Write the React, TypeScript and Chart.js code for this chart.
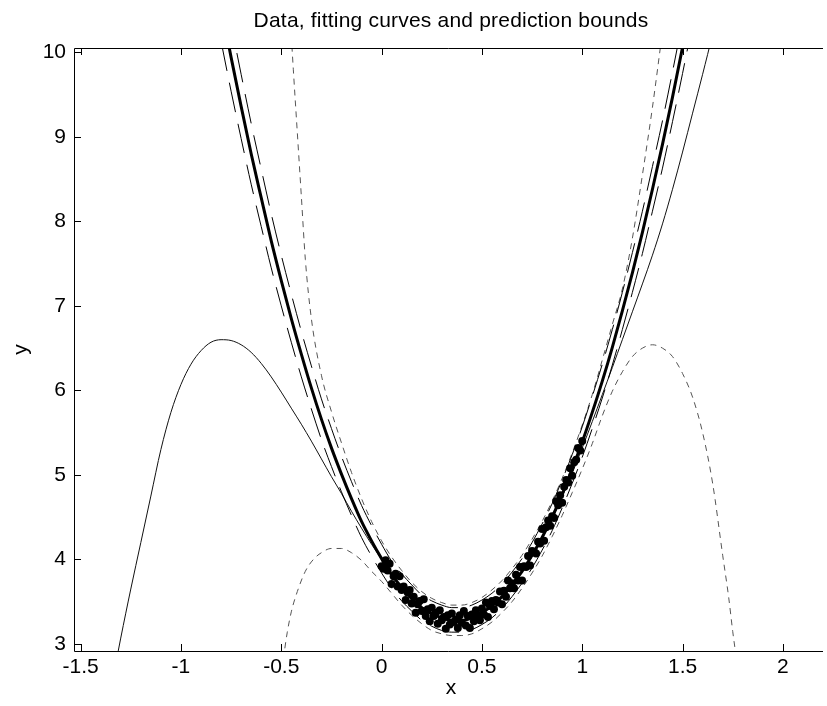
import React, { useEffect, useRef } from 'react';
import { Chart, registerables } from 'chart.js';

Chart.register(...registerables);

const TITLE = 'Data, fitting curves and prediction bounds';
const X_LABEL = 'x';
const Y_LABEL = 'y';
const X_TICKS = [-1.5, -1, -0.5, 0, 0.5, 1, 1.5, 2];
const Y_TICKS = [3, 4, 5, 6, 7, 8, 9, 10];
const X_MIN = -1.533;
const X_MAX = 2.2;
const Y_MIN = 2.917;
const Y_MAX = 10.051;

// observed data
const dataX = [
  0.00, 0.01, 0.02, 0.03, 0.04, 0.05, 0.06, 0.07, 0.08, 0.09,
  0.10, 0.11, 0.12, 0.13, 0.14, 0.15, 0.16, 0.17, 0.18, 0.19,
  0.20, 0.21, 0.22, 0.23, 0.24, 0.25, 0.26, 0.27, 0.28, 0.29,
  0.30, 0.31, 0.32, 0.33, 0.34, 0.35, 0.36, 0.37, 0.38, 0.39,
  0.40, 0.41, 0.42, 0.43, 0.44, 0.45, 0.46, 0.47, 0.48, 0.49,
  0.50, 0.51, 0.52, 0.53, 0.54, 0.55, 0.56, 0.57, 0.58, 0.59,
  0.60, 0.61, 0.62, 0.63, 0.64, 0.65, 0.66, 0.67, 0.68, 0.69,
  0.70, 0.71, 0.72, 0.73, 0.74, 0.75, 0.76, 0.77, 0.78, 0.79,
  0.80, 0.81, 0.82, 0.83, 0.84, 0.85, 0.86, 0.87, 0.88, 0.89,
  0.90, 0.91, 0.92, 0.93, 0.94, 0.95, 0.96, 0.97, 0.98, 0.99, 1.00,
];
const dataY = [
  3.92, 3.89, 3.99, 3.87, 3.95, 3.71, 3.80, 3.83, 3.68, 3.80,
  3.64, 3.68, 3.52, 3.61, 3.64, 3.48, 3.56, 3.37, 3.47, 3.51,
  3.39, 3.53, 3.33, 3.41, 3.27, 3.43, 3.33, 3.37, 3.24, 3.40,
  3.28, 3.32, 3.18, 3.34, 3.23, 3.36, 3.26, 3.29, 3.19, 3.34,
  3.25, 3.39, 3.22, 3.33, 3.19, 3.35, 3.27, 3.40, 3.34, 3.28,
  3.42, 3.35, 3.49, 3.32, 3.45, 3.51, 3.41, 3.52, 3.49, 3.62,
  3.47, 3.63, 3.56, 3.75, 3.66, 3.72, 3.66, 3.82, 3.75, 3.91,
  3.75, 3.92, 3.91, 4.04, 3.93, 4.10, 4.09, 4.07, 4.21, 4.19,
  4.36, 4.22, 4.38, 4.46, 4.40, 4.51, 4.49, 4.69, 4.64, 4.76,
  4.67, 4.86, 4.94, 4.91, 5.08, 4.99, 5.15, 5.18, 5.32, 5.29, 5.40,
];

// fit 1 (thick) with its prediction bounds (long dashes)
const fit1X = [
  -0.80, -0.75, -0.70, -0.65, -0.60, -0.55, -0.50, -0.45, -0.40, -0.35,
  -0.30, -0.25, -0.20, -0.15, -0.10, -0.05, 0.00, 0.05, 0.10, 0.15,
  0.20, 0.25, 0.30, 0.35, 0.40, 0.45, 0.50, 0.55, 0.60, 0.65,
  0.70, 0.75, 0.80, 0.85, 0.90, 0.95, 1.00, 1.05, 1.10, 1.15,
  1.20, 1.25, 1.30, 1.35, 1.40, 1.45, 1.50, 1.55,
];
const fit1Y = [
  10.55, 9.94, 9.36, 8.80, 8.28, 7.77, 7.30, 6.85, 6.43, 6.03,
  5.66, 5.32, 5.01, 4.72, 4.45, 4.22, 4.01, 3.82, 3.67, 3.54,
  3.43, 3.36, 3.31, 3.28, 3.28, 3.31, 3.37, 3.45, 3.56, 3.70,
  3.86, 4.05, 4.26, 4.50, 4.77, 5.07, 5.39, 5.74, 6.11, 6.51,
  6.94, 7.39, 7.87, 8.38, 8.91, 9.47, 10.06, 10.67,
];
const fit1UpperY = [
  10.97, 10.34, 9.74, 9.16, 8.62, 8.09, 7.60, 7.14, 6.70, 6.29,
  5.90, 5.55, 5.22, 4.92, 4.64, 4.40, 4.18, 3.98, 3.83, 3.70,
  3.58, 3.51, 3.46, 3.43, 3.43, 3.46, 3.52, 3.60, 3.71, 3.85,
  4.01, 4.20, 4.42, 4.66, 4.94, 5.24, 5.57, 5.93, 6.31, 6.72,
  7.16, 7.63, 8.12, 8.65, 9.19, 9.77, 10.37, 11.00,
];
const fit1LowerY = [
  10.13, 9.54, 8.98, 8.44, 7.94, 7.45, 7.00, 6.57, 6.16, 5.78,
  5.42, 5.10, 4.80, 4.52, 4.26, 4.04, 3.84, 3.66, 3.51, 3.39,
  3.28, 3.21, 3.16, 3.14, 3.14, 3.17, 3.23, 3.31, 3.42, 3.56,
  3.72, 3.90, 4.11, 4.34, 4.61, 4.90, 5.21, 5.55, 5.91, 6.30,
  6.72, 7.16, 7.62, 8.12, 8.63, 9.18, 9.75, 10.34,
];

// fit 2 (thin solid)
const fit2X = [
  -1.35, -1.30, -1.25, -1.20, -1.15, -1.10, -1.05, -1.00, -0.95, -0.90,
  -0.85, -0.80, -0.75, -0.70, -0.65, -0.60, -0.55, -0.50, -0.45, -0.40,
  -0.35, -0.30, -0.25, -0.20, -0.15, -0.10, -0.05, 0.00, 0.05, 0.10,
  0.15, 0.20, 0.25, 0.30, 0.35, 0.40, 0.45, 0.50, 0.55, 0.60,
  0.65, 0.70, 0.75, 0.80, 0.85, 0.90, 0.95, 1.00, 1.05, 1.10,
  1.15, 1.20, 1.25, 1.30, 1.35, 1.40, 1.45, 1.50, 1.55, 1.60,
  1.65, 1.70,
];
const fit2Y = [
  2.45, 3.07, 3.65, 4.20, 4.75, 5.30, 5.74, 6.07, 6.31, 6.47,
  6.57, 6.60, 6.59, 6.54, 6.45, 6.32, 6.16, 5.98, 5.79, 5.60,
  5.40, 5.19, 4.98, 4.78, 4.57, 4.37, 4.18, 4.00, 3.83, 3.68,
  3.55, 3.44, 3.36, 3.31, 3.28, 3.28, 3.31, 3.37, 3.45, 3.56,
  3.70, 3.86, 4.04, 4.25, 4.48, 4.74, 5.02, 5.32, 5.63, 5.95,
  6.27, 6.60, 6.93, 7.26, 7.60, 7.97, 8.38, 8.82, 9.28, 9.74,
  10.22, 10.75,
];

// fit 2 prediction bounds (short dashes)
const fit2UpperX = [
  -0.46, -0.44, -0.42, -0.40, -0.38, -0.35, -0.30, -0.25, -0.20, -0.15,
  -0.10, -0.05, 0.00, 0.05, 0.10, 0.15, 0.20, 0.25, 0.30, 0.35,
  0.40, 0.45, 0.50, 0.55, 0.60, 0.65, 0.70, 0.75, 0.80, 0.85,
  0.90, 0.95, 1.00, 1.05, 1.10, 1.15, 1.20, 1.25, 1.30, 1.35, 1.40,
];
const fit2UpperY = [
  10.60, 9.80, 9.05, 8.30, 7.55, 6.85, 6.18, 5.75, 5.38, 5.03,
  4.72, 4.45, 4.22, 4.03, 3.87, 3.73, 3.62, 3.54, 3.49, 3.46,
  3.46, 3.49, 3.55, 3.64, 3.75, 3.89, 4.05, 4.24, 4.45, 4.69,
  4.96, 5.26, 5.59, 5.95, 6.36, 6.78, 7.20, 7.80, 8.55, 9.35, 10.25,
];
const fit2LowerX = [
  -0.49, -0.47, -0.45, -0.42, -0.38, -0.34, -0.30, -0.25, -0.20, -0.15,
  -0.10, -0.05, 0.00, 0.05, 0.10, 0.15, 0.20, 0.25, 0.30, 0.35,
  0.40, 0.45, 0.50, 0.55, 0.60, 0.65, 0.70, 0.75, 0.80, 0.85,
  0.90, 0.95, 1.00, 1.05, 1.10, 1.15, 1.20, 1.25, 1.30, 1.35,
  1.40, 1.45, 1.50, 1.55, 1.60, 1.65, 1.70, 1.73, 1.75, 1.77,
];
const fit2LowerY = [
  2.82, 3.14, 3.38, 3.62, 3.86, 4.00, 4.08, 4.13, 4.13, 4.08,
  3.99, 3.86, 3.74, 3.60, 3.46, 3.34, 3.24, 3.16, 3.12, 3.10,
  3.10, 3.12, 3.18, 3.26, 3.37, 3.50, 3.66, 3.84, 4.04, 4.27,
  4.52, 4.79, 5.07, 5.37, 5.70, 5.99, 6.22, 6.40, 6.50, 6.54,
  6.50, 6.40, 6.20, 5.92, 5.50, 4.90, 4.05, 3.55, 3.15, 2.80,
];

const FONT = '"Liberation Sans", Arial, Helvetica, sans-serif';
const FONT_SIZE = 21;

const pts = (xs: number[], ys: number[]) => xs.map((x, i) => ({ x, y: ys[i] }));

const framePlugin = {
  id: 'matlabFrame',
  afterDraw(chart: any) {
    const { ctx, chartArea, scales } = chart;
    const { left, right, top, bottom } = chartArea;
    const xs = scales.x;
    const ys = scales.y;
    const tick = 7;
    ctx.save();
    ctx.strokeStyle = '#000';
    ctx.lineWidth = 1;
    ctx.setLineDash([]);
    ctx.beginPath();
    ctx.moveTo(left + 0.5, bottom + 0.5);
    ctx.lineTo(left + 0.5, top + 0.5);
    ctx.lineTo(right, top + 0.5);
    ctx.moveTo(left + 0.5, bottom + 0.5);
    ctx.lineTo(right, bottom + 0.5);
    X_TICKS.forEach((v) => {
      const p = Math.round(xs.getPixelForValue(v)) + 0.5;
      ctx.moveTo(p, bottom);
      ctx.lineTo(p, bottom - tick);
      ctx.moveTo(p, top);
      ctx.lineTo(p, top + tick);
    });
    Y_TICKS.forEach((v) => {
      const p = Math.round(ys.getPixelForValue(v)) + 0.5;
      ctx.moveTo(left, p);
      ctx.lineTo(left + tick, p);
    });
    ctx.stroke();

    ctx.fillStyle = '#000';
    ctx.font = `${FONT_SIZE}px ${FONT}`;
    ctx.textAlign = 'center';
    ctx.textBaseline = 'alphabetic';
    const cx = 451;
    try { (ctx as any).letterSpacing = '0.2px'; } catch (e) {}
    ctx.fillText(TITLE, cx, 27);
    try { (ctx as any).letterSpacing = '0px'; } catch (e) {}
    ctx.fillText(X_LABEL, cx, 694);
    ctx.save();
    ctx.translate(27, (top + bottom) / 2);
    ctx.rotate(-Math.PI / 2);
    ctx.fillText(Y_LABEL, 0, 0);
    ctx.restore();
    ctx.restore();
  },
};

export default function App() {
  const ref = useRef<HTMLCanvasElement | null>(null);
  useEffect(() => {
    if (!ref.current) return;
    const lineBase = {
      showLine: true,
      pointRadius: 0,
      pointHoverRadius: 0,
      fill: false,
      cubicInterpolationMode: 'monotone',
      clip: 0,
    };
    const chart = new Chart(ref.current, {
      type: 'scatter',
      data: {
        datasets: [
          {
            label: 'data',
            data: pts(dataX, dataY),
            showLine: false,
            pointRadius: 4,
            pointBackgroundColor: '#000',
            pointBorderColor: '#000',
            pointBorderWidth: 0,
            order: 0,
          },
          { ...lineBase, label: 'fit1', data: pts(fit1X, fit1Y), borderColor: '#000', borderWidth: 3, order: 1 },
          { ...lineBase, label: 'fit1 upper', data: pts(fit1X, fit1UpperY), borderColor: '#000', borderWidth: 1, borderDash: [30, 12], order: 2 },
          { ...lineBase, label: 'fit1 lower', data: pts(fit1X, fit1LowerY), borderColor: '#000', borderWidth: 1, borderDash: [30, 12], order: 2 },
          { ...lineBase, label: 'fit2', data: pts(fit2X, fit2Y), borderColor: '#111', borderWidth: 1, order: 3 },
          { ...lineBase, label: 'fit2 upper', data: pts(fit2UpperX, fit2UpperY), borderColor: '#555', borderWidth: 1, borderDash: [6, 5], order: 4 },
          { ...lineBase, label: 'fit2 lower', data: pts(fit2LowerX, fit2LowerY), borderColor: '#555', borderWidth: 1, borderDash: [6, 5], order: 4 },
        ] as any,
      },
      options: {
        animation: false,
        responsive: false,
        devicePixelRatio: 1,
        events: [],
        layout: { padding: { top: 48, left: 0, right: 0, bottom: 0 } },
        plugins: {
          legend: { display: false },
          title: { display: false },
          tooltip: { enabled: false },
        },
        scales: {
          x: {
            type: 'linear',
            min: X_MIN,
            max: X_MAX,
            grid: { display: false, drawTicks: false },
            border: { display: false },
            afterFit: (s: any) => { s.height = 55; },
            afterBuildTicks: (s: any) => { s.ticks = X_TICKS.map((v) => ({ value: v })); },
            ticks: {
              color: '#000',
              font: { family: FONT, size: FONT_SIZE },
              padding: 4,
              autoSkip: false,
              maxRotation: 0,
              minRotation: 0,
              callback: (v: any) => String(v),
            },
          },
          y: {
            type: 'linear',
            min: Y_MIN,
            max: Y_MAX,
            grid: { display: false, drawTicks: false },
            border: { display: false },
            afterFit: (s: any) => { s.width = 74; },
            afterBuildTicks: (s: any) => { s.ticks = Y_TICKS.map((v) => ({ value: v })); },
            ticks: {
              color: '#000',
              font: { family: FONT, size: FONT_SIZE },
              padding: 8,
              autoSkip: false,
              callback: (v: any) => String(v),
            },
          },
        },
      } as any,
      plugins: [framePlugin],
    });
    return () => chart.destroy();
  }, []);
  return (
    <div style={{ position: 'absolute', left: 0, top: 0, width: 827, height: 706, background: '#fff' }}>
      <canvas ref={ref} width={827} height={706} style={{ width: 827, height: 706, display: 'block' }} />
    </div>
  );
}
